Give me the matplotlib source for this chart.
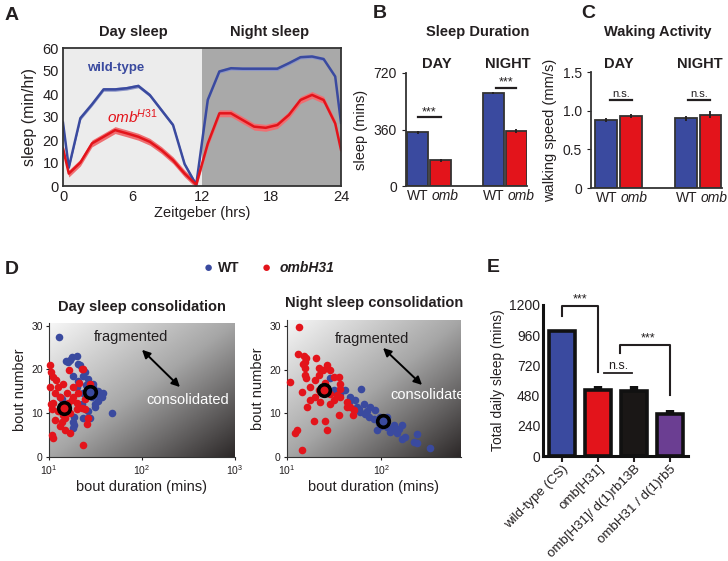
import numpy as np
import matplotlib
matplotlib.use('Agg')
import matplotlib.pyplot as plt
import matplotlib.transforms as mtransforms
from matplotlib.colors import LinearSegmentedColormap

plt.rcParams['font.family'] = ['Liberation Sans', 'DejaVu Sans']
plt.rcParams['mathtext.fontset'] = 'custom'
plt.rcParams['mathtext.rm'] = 'Liberation Sans'
plt.rcParams['mathtext.it'] = 'Liberation Sans:italic'
plt.rcParams['mathtext.bf'] = 'Liberation Sans:bold'

W, H = 728, 561
BLUE = '#3a4a9f'
RED = '#e3141b'
PURPLE = '#6b3e92'
INK = '#231f20'

# A: sleep profile (min/hr), points at the middle of each hour
hours = [0, 0.5, 1.5, 2.5, 3.5, 4.5, 5.5, 6.5, 7.5, 8.5, 9.5, 10.5, 11.5,
         12.5, 13.5, 14.5, 15.5, 16.5, 17.5, 18.5, 19.5, 20.5, 21.5, 22.5, 23.5, 24]
wt_sleep = [27.5, 8, 29.5, 35.5, 42, 42, 42.5, 43.5, 39.5, 33, 26.5, 9.5, 0.5,
            37.5, 49.8, 51.2, 51, 51, 51, 51, 53.4, 56, 56.3, 55.2, 47.6, 27.5]
omb_sleep = [16.3, 5.4, 10.2, 18.5, 21.4, 24.3, 22.9, 21.4, 19.2, 15.6, 11.2, 5.4, 0.6,
             18.5, 31.6, 31.6, 28.7, 25.8, 25.3, 26.5, 30.9, 37.4, 39.6, 37.4, 27.2, 15.7]
wt_sem = 0.8
omb_sem = 1.5

# B: sleep duration (mins) WT day, omb day, WT night, omb night
sleep_mins = [342, 163, 594, 352]
sleep_err = [8, 10, 8, 12]

# C: walking speed (mm/s)
speed = [0.88, 0.93, 0.90, 0.95]
speed_err = [0.025, 0.03, 0.03, 0.045]

# D: bout duration (mins) vs bout number
day_wt_dur = [12.8, 15.9, 16.7, 20.1, 21.5, 23.4, 26.5, 29.9, 33.9, 36.8, 33.9, 31.3, 47.2, 26.5,
              23.4, 27.6, 18.3, 18.3, 13.7, 19.9, 23.4, 20.7, 24.4, 18.3, 28.8, 31.3, 22.4, 38.4,
              35.0, 27.5, 13.0, 20.5, 17.8, 15.4, 26.3, 18.4, 18.4, 32.0, 30.0, 25.0]
day_wt_num = [27.4, 21.7, 22.1, 23.0, 20.9, 18.6, 17.8, 16.7, 15.1, 13.6, 12.8, 12.0, 10.1, 10.5,
              8.9, 8.8, 6.6, 8.1, 13.2, 15.9, 14.7, 17.4, 19.4, 18.6, 13.6, 11.5, 12.0, 14.7,
              13.6, 15.1, 13.6, 21.3, 22.9, 21.9, 8.9, 9.1, 7.4, 14.5, 16.0, 16.5]
day_omb_dur = [10.3, 10.5, 11.1, 10.3, 12.6, 11.6, 14.3, 15.5, 18.3, 20.7, 16.1, 11.1, 10.7, 12.6,
               11.6, 13.7, 16.8, 19.9, 22.4, 24.4, 14.9, 10.7, 11.1, 16.8, 23.4, 23.4, 19.9, 13.1,
               18.3, 24.4, 26.5, 22.4, 16.5, 27.6, 25.5, 10.5, 12.0, 14.0, 17.5, 21.0, 15.0, 13.0]
day_omb_num = [20.9, 19.4, 18.2, 15.9, 15.9, 14.7, 16.7, 14.7, 15.9, 14.7, 12.4, 12.4, 10.9, 10.5,
               8.5, 8.1, 10.1, 10.9, 11.2, 10.9, 6.2, 5.0, 4.3, 5.4, 2.7, 20.2, 12.4, 13.6,
               13.6, 13.2, 8.9, 20.2, 19.8, 16.7, 7.5, 12.0, 17.5, 9.5, 13.0, 17.0, 9.0, 7.0]
night_wt_dur = [28.8, 31.2, 41.5, 46.9, 53.0, 61.4, 55.2, 59.8, 67.6, 73.4, 82.9, 93.7, 115, 130,
                147, 166, 166, 180, 239, 220, 239, 330, 106, 115, 76.4, 65.0, 86.3, 97.5, 135,
                89.9, 124, 45.0, 36.7, 153, 70, 100, 58, 110]
night_wt_num = [18.0, 15.3, 15.3, 13.8, 13.0, 15.7, 11.5, 10.3, 9.9, 9.2, 8.8, 7.7, 6.9, 6.1,
                5.4, 7.3, 4.2, 4.6, 5.2, 3.4, 3.1, 2.1, 8.0, 9.2, 11.5, 12.2, 10.7, 9.2, 7.3,
                6.1, 5.7, 12.6, 14.5, 6.5, 10.5, 7.0, 11.0, 8.5]
night_omb_dur = [13.5, 13.1, 15.0, 15.6, 20.5, 10.8, 12.2, 12.8, 14.4, 19.2, 25.5, 26.5, 35.3, 14.9,
                 15.6, 15.6, 16.0, 17.7, 20.0, 21.7, 21.7, 24.1, 26.5, 28.8, 31.2, 35.3, 36.7, 36.2,
                 33.9, 31.2, 28.8, 22.5, 20.0, 28.8, 36.7, 43.3, 46.1, 50.9, 50.3, 17.7, 14.4, 16.3,
                 25.5, 21.7, 43.3, 16.0]
night_omb_num = [29.7, 23.7, 23.1, 21.8, 22.8, 17.2, 5.5, 6.1, 1.5, 8.2, 8.2, 6.1, 9.7, 21.4,
                 20.3, 18.7, 18.0, 16.1, 17.6, 18.7, 20.3, 19.9, 21.0, 19.9, 18.4, 18.4, 16.8, 15.7,
                 14.2, 13.0, 12.2, 12.6, 13.8, 14.5, 13.8, 12.6, 11.5, 10.7, 9.6, 13.0, 14.9, 11.5,
                 17.0, 15.3, 11.5, 22.6]
day_means = {'wt': (27.9, 14.9), 'omb': (14.4, 11.2)}
night_means = {'wt': (104, 8.2), 'omb': (24.9, 15.3)}

# E: total daily sleep
genotypes = ['wild-type (CS)', 'omb[H31]', 'omb[H31]/ d(1)rb13B', 'ombH31 / d(1)rb5']
total_sleep = [990, 522, 518, 332]
total_err = [15, 32, 40, 36]
e_colors = [BLUE, RED, '#1a1716', PURPLE]

fig = plt.figure(figsize=(W / 100, H / 100), dpi=100)


def px_axes(l, t, r, b):
    return fig.add_axes([l / W, 1 - b / H, (r - l) / W, (b - t) / H])


def ftext(x, y, s, **kw):
    kw.setdefault('ha', 'center')
    kw.setdefault('va', 'center')
    kw.setdefault('color', INK)
    fig.text(x / W, 1 - y / H, s, **kw)


# ---------------- A ----------------
axA = px_axes(63, 48, 341, 186)
axA.axvspan(0, 12, color='#ececec', lw=0)
axA.axvspan(12, 24, color='#a9a9a9', lw=0)
wt = np.array(wt_sleep)
om = np.array(omb_sleep)
axA.fill_between(hours, wt - wt_sem, wt + wt_sem, color='#8c95c8', lw=0)
axA.plot(hours, wt, color=BLUE, lw=1.8)
axA.fill_between(hours, om - omb_sem, om + omb_sem, color='#ef6f72', lw=0)
axA.plot(hours, om, color=RED, lw=1.8)
axA.set_xlim(0, 24)
axA.set_ylim(0, 60)
axA.set_xticks([0, 6, 12, 18, 24])
axA.set_yticks(range(0, 61, 10))
axA.tick_params(labelsize=10.5, length=0, pad=3, colors=INK)
for s in axA.spines.values():
    s.set_linewidth(1.3)
    s.set_color('#333333')
axA.set_xlabel('Zeitgeber (hrs)', fontsize=10.5, labelpad=1, color=INK)
axA.set_ylabel('sleep (min/hr)', fontsize=11.5, labelpad=4, color=INK)
axA.text(2.1, 51.5, 'wild-type', color=BLUE, fontsize=9.5, fontweight='bold', va='center')
axA.text(3.8, 30, r'$\mathbf{\mathit{omb}}^{\mathbf{\mathit{H31}}}$', color=RED, fontsize=11, va='center')
ftext(12, 15, 'A', fontsize=14, fontweight='bold')
ftext(133, 32, 'Day sleep', fontsize=10.5, fontweight='bold')
ftext(270, 32, 'Night sleep', fontsize=10.5, fontweight='bold')


def bar_panel(ax, pos, vals, errs, xlim):
    ax.bar(pos, vals, width=0.88, color=[BLUE, RED, BLUE, RED], edgecolor='#333333', lw=1.3, zorder=2)
    ax.errorbar(pos, vals, yerr=errs, fmt='none', ecolor=INK, elinewidth=1.3, capsize=0, zorder=3)
    ax.set_xlim(*xlim)
    ax.spines['top'].set_visible(False)
    ax.spines['right'].set_visible(False)
    for s in ('left', 'bottom'):
        ax.spines[s].set_linewidth(1.3)
        ax.spines[s].set_color('#333333')
    ax.set_xticks([])
    tr = mtransforms.blended_transform_factory(ax.transData, ax.transAxes)
    for k in (0, 2):
        c = (pos[k] + pos[k + 1]) / 2
        ax.text(c - 0.02, -0.03, 'WT', transform=tr, ha='right', va='top', fontsize=10, color=INK)
        ax.text(c + 0.1, -0.03, 'omb', transform=tr, ha='left', va='top', fontsize=10,
                style='italic', color=INK)
    ax.tick_params(axis='y', length=3, labelsize=10, colors=INK)


# ---------------- B ----------------
axB = px_axes(406, 73, 527, 186)
posB = [0, 1, 3.3, 4.3]
bar_panel(axB, posB, sleep_mins, sleep_err, (-0.5, 4.76))
axB.set_ylim(0, 720)
axB.set_yticks([0, 360, 720])
axB.set_ylabel('sleep (mins)', fontsize=10.5, labelpad=4, color=INK)
axB.plot([0.02, 1.02], [440, 440], color=INK, lw=1.6, clip_on=False)
axB.text(0.52, 470, '***', ha='center', va='center', fontsize=9, color=INK)
axB.plot([3.41, 4.28], [626, 626], color=INK, lw=1.6, clip_on=False)
axB.text(3.85, 657, '***', ha='center', va='center', fontsize=9, color=INK)
ftext(380, 13, 'B', fontsize=14, fontweight='bold')
ftext(478, 32, 'Sleep Duration', fontsize=10.5, fontweight='bold')
ftext(437, 64, 'DAY', fontsize=10.5, fontweight='bold')
ftext(508, 64, 'NIGHT', fontsize=10.5, fontweight='bold')

# ---------------- C ----------------
axC = px_axes(591, 72, 722, 188)
posC = [0, 1, 3.25, 4.25]
bar_panel(axC, posC, speed, speed_err, (-0.62, 4.72))
axC.set_ylim(0, 1.5)
axC.set_yticks([0, 0.5, 1.0, 1.5])
axC.set_yticklabels(['0', '0.5', '1.0', '1.5'])
axC.set_ylabel('walking speed (mm/s)', fontsize=10.5, labelpad=4, color=INK)
axC.plot([0.15, 1.05], [1.14, 1.14], color=INK, lw=1.6, clip_on=False)
axC.text(0.6, 1.21, 'n.s.', ha='center', va='center', fontsize=8, color=INK)
axC.plot([3.33, 4.23], [1.14, 1.14], color=INK, lw=1.6, clip_on=False)
axC.text(3.78, 1.21, 'n.s.', ha='center', va='center', fontsize=8, color=INK)
ftext(588, 13, 'C', fontsize=14, fontweight='bold')
ftext(658, 32, 'Waking Activity', fontsize=10.5, fontweight='bold')
ftext(619, 64, 'DAY', fontsize=10.5, fontweight='bold')
ftext(700, 64, 'NIGHT', fontsize=10.5, fontweight='bold')

# ---------------- D ----------------
grad_cmap = LinearSegmentedColormap.from_list('g', ['#f6f6f6', '#a6a6a6', '#2c2828'])
gx, gy = np.meshgrid(np.linspace(0, 1, 200), np.linspace(1, 0, 200))
grad = (gx + (1 - gy)) / 2


def scatter_panel(box, xmax, ymax, wt_d, wt_n, om_d, om_n, means, title, arrow, frag, cons, cons_ha):
    bg = px_axes(*box)
    bg.imshow(grad, cmap=grad_cmap, extent=[0, 1, 0, 1], aspect='auto', origin='upper', vmin=0, vmax=1)
    bg.set_xlim(0, 1)
    bg.set_ylim(0, 1)
    bg.axis('off')
    ax = px_axes(*box)
    ax.set_facecolor('none')
    ax.scatter(wt_d, wt_n, s=30, color=BLUE, lw=0, zorder=3, clip_on=False)
    ax.scatter(om_d, om_n, s=30, color=RED, lw=0, zorder=4, clip_on=False)
    ax.scatter(*means['wt'], s=70, facecolor=BLUE, edgecolor='black', lw=2.6, zorder=5)
    ax.scatter(*means['omb'], s=70, facecolor=RED, edgecolor='black', lw=2.6, zorder=5)
    ax.set_xscale('log')
    ax.set_xlim(10, xmax)
    ax.set_ylim(0, ymax)
    ax.set_yticks([0, 10, 20, 30])
    ticks = [t for t in (10, 100, 1000) if t <= xmax]
    ax.set_xticks(ticks)
    ax.set_xticklabels([r'$10^{%d}$' % int(np.log10(t)) for t in ticks])
    ax.minorticks_off()
    ax.tick_params(labelsize=7.5, length=2.5, pad=2, colors=INK)
    ax.spines['top'].set_visible(False)
    ax.spines['right'].set_visible(False)
    for s in ('left', 'bottom'):
        ax.spines[s].set_linewidth(0.8)
        ax.spines[s].set_color('#333333')
    ax.set_xlabel('bout duration (mins)', fontsize=10.5, labelpad=2, color=INK)
    ax.set_ylabel('bout number', fontsize=10.5, labelpad=3, color=INK)
    ax.set_title(title, fontsize=10.5, fontweight='bold', color=INK, pad=9)
    ax.annotate('', xy=arrow[0], xytext=arrow[1], xycoords='axes fraction',
                arrowprops=dict(arrowstyle='<|-|>', color='black', lw=1.4,
                                mutation_scale=12, shrinkA=0, shrinkB=0), zorder=6)
    ax.text(frag[0], frag[1], 'fragmented', transform=ax.transAxes, ha='center', va='center',
            fontsize=10.5, color=INK, zorder=6)
    t = ax.text(cons[0], cons[1], 'consolidated', transform=ax.transAxes, ha=cons_ha, va='center',
                fontsize=10.5, color='white', zorder=6)
    t.set_clip_path(ax.patch)
    t.set_clip_on(True)
    return ax


scatter_panel((49, 323, 235, 457), 1000, 30.6, day_wt_dur, day_wt_num, day_omb_dur, day_omb_num,
              day_means, 'Day sleep consolidation',
              ((0.5, 0.8), (0.704, 0.522)), (0.44, 0.895), (0.747, 0.425), 'center')
scatter_panel((287, 320, 461, 457), 700, 31.4, night_wt_dur, night_wt_num, night_omb_dur, night_omb_num,
              night_means, 'Night sleep consolidation',
              ((0.552, 0.796), (0.776, 0.526)), (0.491, 0.861), (0.592, 0.453), 'left')

ftext(12, 270, 'D', fontsize=14, fontweight='bold')
ftext(208, 268, '\u25cf', fontsize=11, color=BLUE)
ftext(218, 268, 'WT', fontsize=10, fontweight='bold', ha='left')
ftext(266, 268, '\u25cf', fontsize=11, color=RED)
ftext(280, 268, 'ombH31', fontsize=10, fontweight='bold', style='italic', ha='left')

# ---------------- E ----------------
axE = px_axes(543, 305, 688, 456)
posE = np.arange(len(genotypes))
axE.bar(posE, total_sleep, width=0.72, color=e_colors, edgecolor='#111111', lw=2.6, zorder=2)
axE.errorbar(posE, total_sleep, yerr=[np.zeros(len(posE)), total_err], fmt='none',
             ecolor='#111111', elinewidth=6, capsize=0, zorder=3)
axE.set_xlim(-0.53, 3.5)
axE.set_ylim(0, 1200)
axE.set_yticks([0, 240, 480, 720, 960, 1200])
axE.set_xticks(posE)
axE.set_xticklabels(genotypes, rotation=45, ha='right', rotation_mode='anchor')
axE.tick_params(axis='x', length=4, width=1.5, labelsize=9.6, pad=1, colors=INK)
axE.tick_params(axis='y', length=0, labelsize=10, pad=2, colors=INK)
axE.spines['top'].set_visible(False)
axE.spines['right'].set_visible(False)
for s in ('left', 'bottom'):
    axE.spines[s].set_linewidth(2.2)
    axE.spines[s].set_color('#111111')
axE.set_ylabel('Total daily sleep (mins)', fontsize=10, labelpad=3, color=INK)
axE.plot([0, 0, 1, 1], [1113, 1190, 1190, 668], color=INK, lw=1.5, clip_on=False)
axE.text(0.5, 1245, '***', ha='center', va='center', fontsize=9, color=INK)
axE.plot([1.6, 1.6, 3.0, 3.0], [819, 882, 882, 485], color=INK, lw=1.5, clip_on=False)
axE.text(2.39, 935, '***', ha='center', va='center', fontsize=9, color=INK)
axE.plot([1.17, 1.94], [662, 662], color=INK, lw=1.3)
axE.text(1.55, 712, 'n.s.', ha='center', va='center', fontsize=9, color=INK)
ftext(493, 267, 'E', fontsize=14, fontweight='bold')

fig.savefig('out.png', dpi=100)
